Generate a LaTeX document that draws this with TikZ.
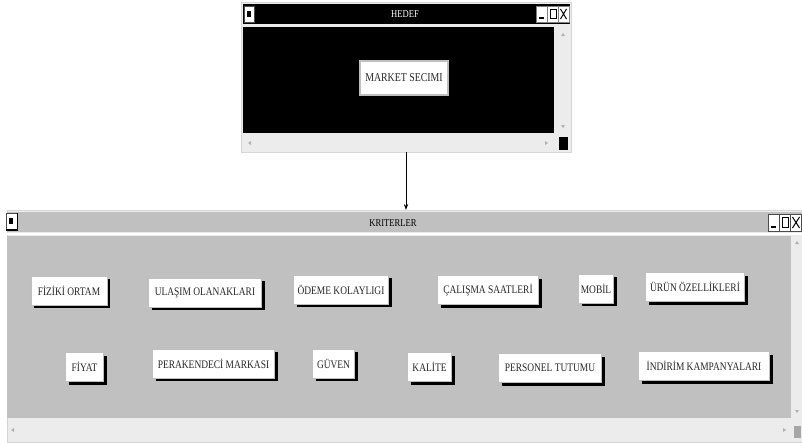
\documentclass[tikz,border=0pt]{standalone}
\usepackage{fontspec}
\setmainfont{Liberation Serif}
\newfontfamily\btnfont[FakeStretch=0.82]{Liberation Serif}
\usetikzlibrary{shadows,arrows.meta}
\definecolor{wingray}{RGB}{192,192,192}
\definecolor{barlight}{RGB}{236,236,236}
\tikzset{
  window/.style={fill=barlight, draw=barlight!80!gray, inner sep=0pt},
  button/.style={draw=gray!50, fill=white, line width=0.8pt, inner sep=0pt,
    minimum height=29, font=\btnfont\fontsize{11.5}{12}\selectfont, text=black!85,
    drop shadow={shadow xshift=3pt, shadow yshift=-3pt, fill=black, opacity=1}},
  wintitle/.style={font=\btnfont\fontsize{10.5}{11}\selectfont, inner sep=0pt},
  winbtn/.style={draw=black!70, fill=white, line width=0.5pt},
  scrollmark/.style={fill=gray!60}
}
\begin{document}
\begin{tikzpicture}[x=1pt,y=-1pt,>=Stealth]
  \useasboundingbox (0,0) rectangle (802,442);
  \fill[white] (0,0) rectangle (802,442);
  %
  % Goal window
  \node[window, minimum width=330, minimum height=150] (hedef) at (406,77) {};
  \fill[black] (243,4) rectangle (570,24);
  \fill[black] (243,27) rectangle (554,133);
  \fill[black] (559,137) rectangle (568,150);
  \node[wintitle, text=white] (hedefT) at (405,14) {HEDEF};
  \filldraw[winbtn] (244,6) rectangle (254,22);
  \fill[black] (247,11) rectangle (251,17);
  \foreach \x in {536,547,558} {
    \filldraw[winbtn, draw=gray] (\x,6) rectangle (\x+11,22);
  }
  \draw[line width=1.5pt] (539,18) -- (544,18);
  \draw[line width=0.8pt] (550,9.5) rectangle (556,18.5);
  \draw[line width=1pt] (560.5,9) -- (566.5,19) (566.5,9) -- (560.5,19);
  \fill[scrollmark] (563,33) -- (561,36) -- (565,36) -- cycle;
  \fill[scrollmark] (563,128) -- (561,125) -- (565,125) -- cycle;
  \fill[scrollmark] (248,143) -- (251,141) -- (251,145) -- cycle;
  \fill[scrollmark] (548,143) -- (545,141) -- (545,145) -- cycle;
  %
  \node[button, minimum width=88, minimum height=34, line width=2pt,
    font=\btnfont\fontsize{12}{13}\selectfont] (market) at (404,78) {MARKET SECIMI};
  %
  % Criteria window
  \node[window, minimum width=795, minimum height=232] (kriter) at (404.5,326) {};
  \fill[wingray] (7,212) rectangle (802,232);
  \fill[white] (7,232.5) rectangle (802,235);
  \fill[wingray] (7,236) rectangle (791,418);
  \node[wintitle] (kriterT) at (393,223) {KRITERLER};
  \filldraw[winbtn] (6,213) rectangle (17,229);
  \fill[black] (9,218) rectangle (13,224);
  \draw[line width=1.2pt] (17.5,213) -- (17.5,230) -- (6,230);
  \foreach \x in {768,779,790} {
    \filldraw[winbtn] (\x,214) rectangle (\x+11,231);
  }
  \draw[line width=1.5pt] (771,227) -- (776,227);
  \draw[line width=0.8pt] (782,217.5) rectangle (788,227);
  \draw[line width=1pt] (792.5,217) -- (799.5,228) (799.5,217) -- (792.5,228);
  \fill[scrollmark] (797,241) -- (795,244) -- (799,244) -- cycle;
  \fill[scrollmark] (797,413) -- (795,410) -- (799,410) -- cycle;
  \fill[scrollmark] (11,430) -- (14,428) -- (14,432) -- cycle;
  \fill[scrollmark] (786,430) -- (783,428) -- (783,432) -- cycle;
  \fill[gray!70] (794,426) rectangle (801,438);
  %
  % Criteria, first row
  \node[button, minimum width=76] (fiziki) at (69,290.5) {FİZİKİ ORTAM};
  \node[button, minimum width=113] (ulasim) at (205,292.5) {ULAŞIM OLANAKLARI};
  \node[button, minimum width=95] (odeme) at (341,289.5) {ÖDEME KOLAYLIGI};
  \node[button, minimum width=101] (calisma) at (488,290) {ÇALIŞMA SAATLERİ};
  \node[button, minimum width=35] (mobil) at (596,288.5) {MOBİL};
  \node[button, minimum width=99] (urun) at (695,287) {ÜRÜN ÖZELLİKLERİ};
  %
  % Criteria, second row
  \node[button, minimum width=38] (fiyat) at (84.5,367) {FİYAT};
  \node[button, minimum width=122] (perakendeci) at (213.5,363.5) {PERAKENDECİ MARKASI};
  \node[button, minimum width=42] (guven) at (333.5,363.5) {GÜVEN};
  \node[button, minimum width=44] (kalite) at (429.5,367) {KALİTE};
  \node[button, minimum width=103] (personel) at (550,368) {PERSONEL TUTUMU};
  \node[button, minimum width=131] (indirim) at (704,366) {İNDİRİM KAMPANYALARI};
  %
  % Link
  \draw[->, line width=0.6pt] (hedef.south) -- (hedef.south |- kriter.north);
\end{tikzpicture}
\end{document}
